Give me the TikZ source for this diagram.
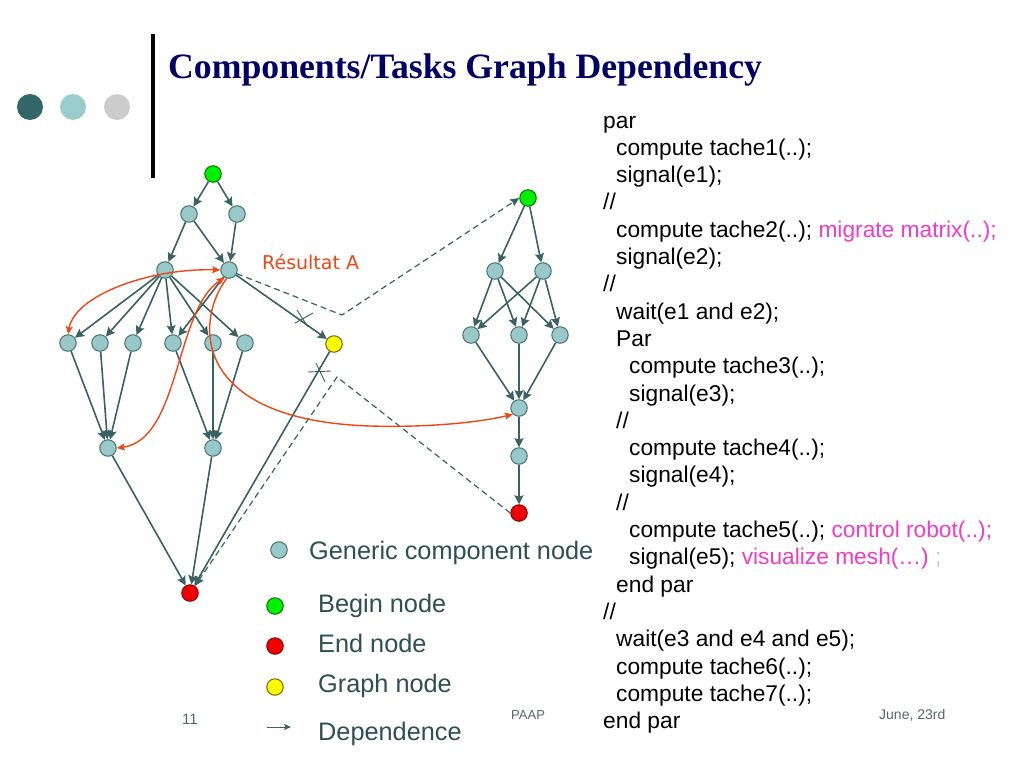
\documentclass[tikz,border=0pt]{standalone}
\usepackage{fontspec}
\setmainfont{Liberation Sans}
\newfontfamily\titlefont{Liberation Serif}
\newfontfamily\dvfont{DejaVu Sans}
\usetikzlibrary{arrows.meta}
\definecolor{nodefill}{RGB}{153,200,200}
\definecolor{nodeborder}{RGB}{70,115,115}
\definecolor{edgecol}{RGB}{58,98,98}
\definecolor{orangecol}{RGB}{240,70,20}
\definecolor{titlecol}{RGB}{0,0,102}
\definecolor{legcol}{RGB}{45,80,80}
\definecolor{footcol}{RGB}{85,105,105}
\definecolor{magcol}{RGB}{240,60,200}
\definecolor{faintcol}{RGB}{200,200,200}
\definecolor{dotA}{RGB}{51,102,102}
\definecolor{dotB}{RGB}{153,204,204}
\definecolor{dotC}{RGB}{204,204,204}
\begin{document}
\begin{tikzpicture}[x=1pt,y=-1pt,
  gnode/.style={circle,minimum size=16.5pt,inner sep=0pt,fill=nodefill,draw=nodeborder,line width=1pt},
  bnode/.style={gnode,fill={rgb,255:red,0;green,240;blue,0},draw={rgb,255:red,0;green,120;blue,0}},
  enode/.style={gnode,fill={rgb,255:red,240;green,0;blue,0},draw={rgb,255:red,140;green,0;blue,0}},
  ynode/.style={gnode,fill={rgb,255:red,250;green,250;blue,0},draw={rgb,255:red,110;green,110;blue,0}},
  edge/.style={draw=edgecol,line width=1.6pt,-{Stealth[length=9pt,width=9pt,inset=1.5pt]}},
  dashline/.style={draw=edgecol,line width=1.2pt,dash pattern=on 6pt off 4pt,-{Stealth[length=9pt,width=8pt,inset=1.5pt]}},
  resline/.style={draw=orangecol,line width=1.4pt,{Stealth[length=8pt,width=7pt,inset=1.5pt]}-{Stealth[length=8pt,width=7pt,inset=1.5pt]}},
  resend/.style={draw=orangecol,line width=1.4pt,-{Stealth[length=8pt,width=7pt,inset=1.5pt]}},
  cross/.style={draw=edgecol,line width=0.9pt},
  code/.style={anchor=base west,inner sep=0pt,font=\fontsize{22.75}{27.3}\selectfont},
  legtext/.style={anchor=base west,inner sep=0pt,text=legcol,font=\fontsize{25.3}{30}\selectfont},
  foot/.style={anchor=base west,inner sep=0pt,text=footcol}]
\path[use as bounding box,fill=white] (0,0) rectangle (1024,768);

% decoration
\fill[dotA] (30,107) circle (13);
\fill[dotB] (73,107) circle (13);
\fill[dotC] (117,107) circle (13);
\fill[black] (151,34) rectangle (155,178);

% title
\node[anchor=base west,inner sep=0pt,text=titlecol,font=\titlefont\bfseries\fontsize{35.7}{40}\selectfont] (title) at (168,78) {Components/Tasks Graph Dependency};

% left graph nodes
\node[bnode] (G) at (213,174) {};
\node[gnode] (A1) at (189,214) {};
\node[gnode] (A2) at (237,214) {};
\node[gnode] (B1) at (165,270) {};
\node[gnode] (B2) at (229,270) {};
\node[gnode] (C1) at (68,343) {};
\node[gnode] (C2) at (100,343) {};
\node[gnode] (C3) at (133,343) {};
\node[gnode] (C4) at (173,343) {};
\node[gnode] (C5) at (213,343) {};
\node[gnode] (C6) at (245,343) {};
\node[ynode] (Y) at (334,344) {};
\node[gnode] (D1) at (108,448) {};
\node[gnode] (D2) at (213,448) {};
\node[enode] (E) at (190,593) {};

% right graph nodes
\node[bnode] (RG) at (528,198) {};
\node[gnode] (R1) at (495,271) {};
\node[gnode] (R2) at (543,271) {};
\node[gnode] (R3a) at (471,335) {};
\node[gnode] (R3b) at (519,335) {};
\node[gnode] (R3c) at (560,335) {};
\node[gnode] (R4) at (519,408) {};
\node[gnode] (R5) at (519,456) {};
\node[enode] (RE) at (519,513) {};

% left edges
\draw[edge] (G) -- (A1);
\draw[edge] (G) -- (A2);
\draw[edge] (A1) -- (B1);
\draw[edge] (A1) -- (B2);
\draw[edge] (A2) -- (B2);
\foreach \c in {C1,C2,C3,C4,C5,C6} \draw[edge] (B1) -- (\c);
\draw[edge] (B2) -- (C4);
\draw[edge] (B2) -- (Y);
\foreach \c in {C1,C2,C3} \draw[edge] (\c) -- (D1);
\foreach \c in {C4,C5,C6} \draw[edge] (\c) -- (D2);
\draw[edge] (D1) -- (E);
\draw[edge] (D2) -- (E);
\draw[edge] (Y) -- (E);

% right edges
\draw[edge] (RG) -- (R1);
\draw[edge] (RG) -- (R2);
\foreach \a in {R1,R2} \foreach \b in {R3a,R3b,R3c} \draw[edge] (\a) -- (\b);
\foreach \b in {R3a,R3b,R3c} \draw[edge] (\b) -- (R4);
\draw[edge] (R4) -- (R5);
\draw[edge] (R5) -- (RE);

% dashed links
\coordinate (k1) at (342,315);
\coordinate (k2) at (337,377);
\draw[dashline] (B2.-25) -- (k1) -- (RG.west);
\draw[dashline] (RE.west) -- (k2) -- (E.55);

% cross marks
\draw[cross] (297,310) -- (308,327);
\draw[cross] (295,323) -- (313,313);
\draw[cross] (308,372) -- (331,371);
\draw[cross] (316,363) -- (325,382);

% orange curves
\draw[resline] (C1.north) .. controls (75,295) and (150,268) .. (B2.west);
\draw[resline] (B2.-120) .. controls (175,310) and (180,440) .. (D1.east);
\coordinate (m3) at (370,426);
\draw[resend] (B2.-105) .. controls (195,320) and (190,420) .. (m3) .. controls (440,428) and (490,420) .. (R4.-135);
\node[anchor=base west,inner sep=0pt,text=orangecol,font=\dvfont\fontsize{19}{23}\selectfont] (res) at (262,269) {Résultat A};

% legend
\node[gnode] (lg1) at (279,550) {};
\node[bnode] (lg2) at (275,606) {};
\node[enode] (lg3) at (275,646) {};
\node[ynode] (lg4) at (275,687) {};
\coordinate (la) at (267,727);
\coordinate (lb) at (291,727);
\draw[draw=edgecol,line width=1pt,-{Stealth[length=7pt,width=6pt,inset=1.5pt]}] (la) -- (lb);
\node[legtext] (lt1) at (309,559) {Generic component node};
\node[legtext] (lt2) at (318,612) {Begin node};
\node[legtext] (lt3) at (318,652) {End node};
\node[legtext] (lt4) at (318,692) {Graph node};
\node[legtext] (lt5) at (318,740) {Dependence};

% footer
\node[foot,font=\fontsize{15}{18}\selectfont] (f1) at (182,724) {11};
\node[foot,font=\fontsize{13}{16}\selectfont] (f2) at (511,719) {PAAP};
\node[foot,font=\fontsize{14}{17}\selectfont] (f3) at (879,719) {June, 23rd};

% code
\def\lo{603}\def\li{616}\def\lii{629}
\node[code] (c0) at (\lo,128) {par};
\node[code] (c1) at (\li,155.3) {compute tache1(..);};
\node[code] (c2) at (\li,182.6) {signal(e1);};
\node[code] (c3) at (\lo,209.9) {//};
\node[code] (c4) at (\li,237.2) {compute tache2(..); \textcolor{magcol}{migrate matrix(..);}};
\node[code] (c5) at (\li,264.5) {signal(e2);};
\node[code] (c6) at (\lo,291.8) {//};
\node[code] (c7) at (\li,319.1) {wait(e1 and e2);};
\node[code] (c8) at (\li,346.4) {Par};
\node[code] (c9) at (\lii,373.7) {compute tache3(..);};
\node[code] (c10) at (\lii,401.0) {signal(e3);};
\node[code] (c11) at (\li,428.3) {//};
\node[code] (c12) at (\lii,455.6) {compute tache4(..);};
\node[code] (c13) at (\lii,482.9) {signal(e4);};
\node[code] (c14) at (\li,510.2) {//};
\node[code] (c15) at (\lii,537.5) {compute tache5(..); \textcolor{magcol}{control robot(..);}};
\node[code] (c16) at (\lii,564.8) {signal(e5); \textcolor{magcol}{visualize mesh(…)} \textcolor{faintcol}{;}};
\node[code] (c17) at (\li,592.1) {end par};
\node[code] (c18) at (\lo,619.4) {//};
\node[code] (c19) at (\li,646.7) {wait(e3 and e4 and e5);};
\node[code] (c20) at (\li,674.0) {compute tache6(..);};
\node[code] (c21) at (\li,701.3) {compute tache7(..);};
\node[code] (c22) at (\lo,728.6) {end par};
\end{tikzpicture}
\end{document}
